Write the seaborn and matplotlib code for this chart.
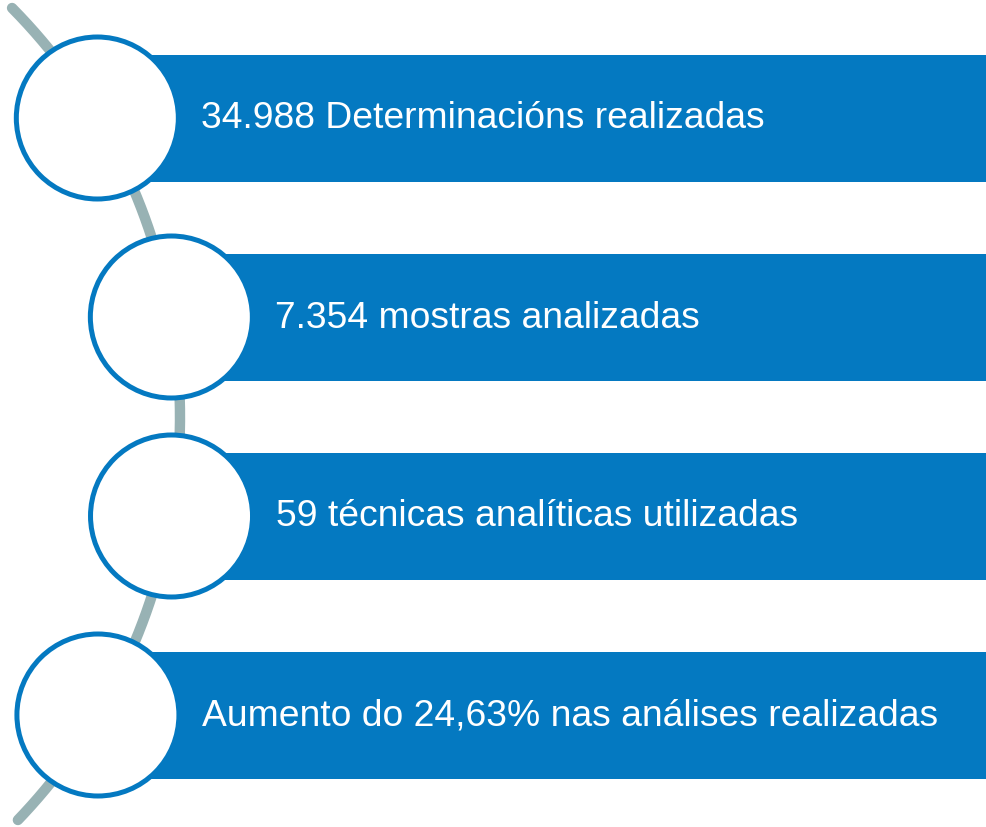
import numpy as np
import matplotlib.pyplot as plt
import seaborn as sns
from matplotlib.patches import Circle, Rectangle

# Items of the vertical list (top to bottom)
labels = [
    "34.988 Determinacións realizadas",
    "7.354 mostras analizadas",
    "59 técnicas analíticas utilizadas",
    "Aumento do 24,63% nas análises realizadas",
]
item_y = [118, 317, 516, 715]  # centre of each row, in pixels from the top

BLUE = "#0479C1"
ARC = "#98B2B4"

sns.set_theme(style="white")
plt.rcParams["font.family"] = ["Liberation Sans", "DejaVu Sans"]

W, H = 986, 827
fig = plt.figure(figsize=(W / 100, H / 100), dpi=100)
ax = fig.add_axes([0, 0, 1, 1])
ax.set_xlim(0, W)
ax.set_ylim(H, 0)
ax.axis("off")

# the grey arc the circles sit on
arc_cx, arc_cy, arc_r = -402, 417, 582
yy = np.linspace(8, 820, 400)
xx = arc_cx + np.sqrt(arc_r**2 - (yy - arc_cy) ** 2)
ax.plot(xx, yy, color=ARC, lw=7.5, solid_capstyle="round", zorder=1)

bar_h = 127
circ_r = 81
for label, y in zip(labels, item_y):
    x = arc_cx + np.sqrt(arc_r**2 - (y - arc_cy) ** 2)
    ax.add_patch(Rectangle((x, y - bar_h / 2), W - x, bar_h, facecolor=BLUE,
                           edgecolor="none", zorder=2))
    ax.add_patch(Circle((x, y), circ_r, facecolor="white", edgecolor=BLUE,
                        lw=3.6, zorder=3))
    ax.text(x + 104, y + 1, label, color="white", fontsize=26.8,
            va="center", ha="left", zorder=4)

fig.savefig("out.png", dpi=100)
